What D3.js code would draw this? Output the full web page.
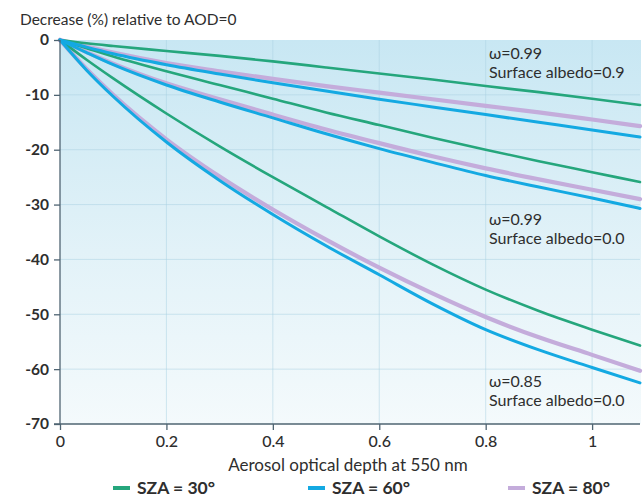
<!DOCTYPE html>
<html>
<head>
<meta charset="utf-8">
<script src="https://cdn.jsdelivr.net/npm/d3@7"></script>
<style>
  html, body { margin: 0; padding: 0; background: #ffffff; }
  svg { display: block; }
  text { font-family: Lato, "Open Sans", sans-serif; fill: #2e2e2e; }
</style>
</head>
<body>
<svg id="chart" width="644" height="497"></svg>
<script>
// Aerosol optical depth sample points
const aod = [0, 0.05, 0.1, 0.2, 0.3, 0.4, 0.5, 0.6, 0.7, 0.8, 0.9, 1.0, 1.09];

// Decrease (%) relative to AOD=0 — omega 0.99, surface albedo 0.9
const w99a09_sza30 = [0, -0.6, -1.1, -2.0, -2.9, -3.9, -5.0, -6.1, -7.2, -8.4, -9.5, -10.7, -11.85];
const w99a09_sza60 = [0, -1.3, -2.5, -4.5, -6.2, -7.8, -9.3, -10.8, -12.2, -13.6, -15.0, -16.4, -17.7];
const w99a09_sza80 = [0, -1.2, -2.3, -4.2, -5.7, -7.1, -8.4, -9.6, -10.8, -12.0, -13.2, -14.5, -15.7];
// omega 0.99, surface albedo 0.0
const w99a00_sza30 = [0, -1.5, -3.0, -5.7, -8.2, -10.7, -13.2, -15.5, -17.8, -20.0, -22.1, -24.1, -25.9];
const w99a00_sza60 = [0, -2.3, -4.5, -8.2, -11.3, -14.2, -17.1, -19.8, -22.3, -24.7, -26.8, -28.8, -30.7];
const w99a00_sza80 = [0, -2.2, -4.3, -7.9, -10.8, -13.6, -16.3, -18.8, -21.2, -23.4, -25.4, -27.3, -29.0];
// omega 0.85, surface albedo 0.0
const w85a00_sza30 = [0, -3.6, -7.0, -13.4, -19.4, -25.0, -30.4, -35.8, -40.9, -45.5, -49.4, -52.8, -55.7];
const w85a00_sza60 = [0, -5.5, -10.3, -18.6, -25.6, -31.8, -37.5, -42.8, -48.1, -52.8, -56.5, -59.7, -62.5];
const w85a00_sza80 = [0, -5.3, -10.0, -18.1, -24.9, -30.9, -36.4, -41.5, -46.2, -50.5, -54.2, -57.4, -60.3];

const xTicks = [0, 0.2, 0.4, 0.6, 0.8, 1];
const xTickLabels = ["0", "0.2", "0.4", "0.6", "0.8", "1"];
const yTicks = [0, -10, -20, -30, -40, -50, -60, -70];
const yTickLabels = ["0", "-10", "-20", "-30", "-40", "-50", "-60", "-70"];

const legendLabels = ["SZA = 30°", "SZA = 60°", "SZA = 80°"];
const annotations = [
  { lines: ["ω=0.99", "Surface albedo=0.9"], y: 59 },
  { lines: ["ω=0.99", "Surface albedo=0.0"], y: 225 },
  { lines: ["ω=0.85", "Surface albedo=0.0"], y: 387 }
];

const colors = { sza30: "#25a67c", sza60: "#14a9e2", sza80: "#c4acdb" };

const svg = d3.select("#chart");
const m = { left: 60, right: 640, top: 40, bottom: 424 };

const x = d3.scaleLinear().domain([0, 1.09]).range([m.left, m.right]);
const y = d3.scaleLinear().domain([0, -70]).range([m.top, m.bottom]);

// Plot background gradient
const defs = svg.append("defs");
const grad = defs.append("linearGradient").attr("id", "bg")
  .attr("x1", 0).attr("y1", 0).attr("x2", 0).attr("y2", 1);
grad.append("stop").attr("offset", "0%").attr("stop-color", "#c8e7f3");
grad.append("stop").attr("offset", "55%").attr("stop-color", "#e2f2f8");
grad.append("stop").attr("offset", "100%").attr("stop-color", "#f4fafc");

svg.append("rect")
  .attr("x", m.left).attr("y", m.top)
  .attr("width", m.right - m.left + 1).attr("height", m.bottom - m.top)
  .attr("fill", "url(#bg)");

// Grid lines
const grid = svg.append("g").attr("stroke", "#a9d2e4").attr("stroke-opacity", 0.5).attr("stroke-width", 1);
grid.selectAll("line.v").data(xTicks.slice(1)).join("line")
  .attr("x1", d => x(d)).attr("x2", d => x(d))
  .attr("y1", m.top).attr("y2", m.bottom);
grid.selectAll("line.h").data(yTicks.slice(1, -1)).join("line")
  .attr("x1", m.left).attr("x2", m.right)
  .attr("y1", d => y(d)).attr("y2", d => y(d));

// Curves
const line = d3.line().x((d, i) => x(aod[i])).y(d => y(d)).curve(d3.curveMonotoneX);
const series = [
  { v: w99a09_sza80, c: colors.sza80, w: 4.2 },
  { v: w99a00_sza80, c: colors.sza80, w: 4.2 },
  { v: w85a00_sza80, c: colors.sza80, w: 4.2 },
  { v: w99a09_sza30, c: colors.sza30, w: 2.6 },
  { v: w99a00_sza30, c: colors.sza30, w: 2.6 },
  { v: w85a00_sza30, c: colors.sza30, w: 2.6 },
  { v: w99a09_sza60, c: colors.sza60, w: 3 },
  { v: w99a00_sza60, c: colors.sza60, w: 3 },
  { v: w85a00_sza60, c: colors.sza60, w: 3 }
];
svg.append("g").selectAll("path").data(series).join("path")
  .attr("d", d => line(d.v))
  .attr("fill", "none")
  .attr("stroke", d => d.c)
  .attr("stroke-width", d => d.w)
  .attr("stroke-linejoin", "round")
  .attr("stroke-linecap", "round");

// Axes
const axisColor = "#4f6472";
const yAxis = svg.append("g").attr("transform", `translate(${m.left},0)`)
  .call(d3.axisLeft(y).tickValues(yTicks).tickFormat((d, i) => yTickLabels[i]).tickSize(6).tickPadding(5));
const xAxis = svg.append("g").attr("transform", `translate(0,${m.bottom})`)
  .call(d3.axisBottom(x).tickValues(xTicks).tickFormat((d, i) => xTickLabels[i]).tickSize(6).tickPadding(6));
[xAxis, yAxis].forEach(g => {
  g.select(".domain").attr("stroke", axisColor).attr("stroke-width", 1.3);
  g.selectAll(".tick line").attr("stroke", axisColor).attr("stroke-width", 1.3);
  g.selectAll("text").style("font-family", "Lato, sans-serif").attr("fill", "#222");
});
xAxis.select(".domain").attr("d", `M${m.left - 6},0H${m.right}`);
yAxis.select(".domain").attr("d", `M0,${m.top}V${m.bottom}`);
yAxis.selectAll("text").style("font-size", "15.5px").style("font-weight", 700);
xAxis.selectAll("text").style("font-size", "16px").style("font-weight", 500);

// Titles
svg.append("text").attr("x", 20).attr("y", 25)
  .style("font-size", "15.5px").text("Decrease (%) relative to AOD=0");
svg.append("text").attr("x", 348).attr("y", 471)
  .attr("text-anchor", "middle").style("font-size", "17px")
  .text("Aerosol optical depth at 550 nm");

// Annotations
const annX = 489;
annotations.forEach(a => {
  const t = svg.append("text").attr("x", annX).attr("y", a.y).style("font-size", "16px");
  a.lines.forEach((s, i) => t.append("tspan").attr("x", annX).attr("dy", i ? 18.5 : 0).text(s));
});

// Legend
const legendX = [113, 308, 508];
const legendColors = [colors.sza30, colors.sza60, colors.sza80];
const lg = svg.append("g").selectAll("g").data(legendLabels).join("g")
  .attr("transform", (d, i) => `translate(${legendX[i]},494)`);
lg.append("line").attr("x1", 0).attr("x2", 17).attr("y1", -6).attr("y2", -6)
  .attr("stroke", (d, i) => legendColors[i]).attr("stroke-width", 4);
lg.append("text").attr("x", 24).attr("y", 0)
  .style("font-size", "17.5px").style("font-weight", 700).text(d => d);
</script>
</body>
</html>
